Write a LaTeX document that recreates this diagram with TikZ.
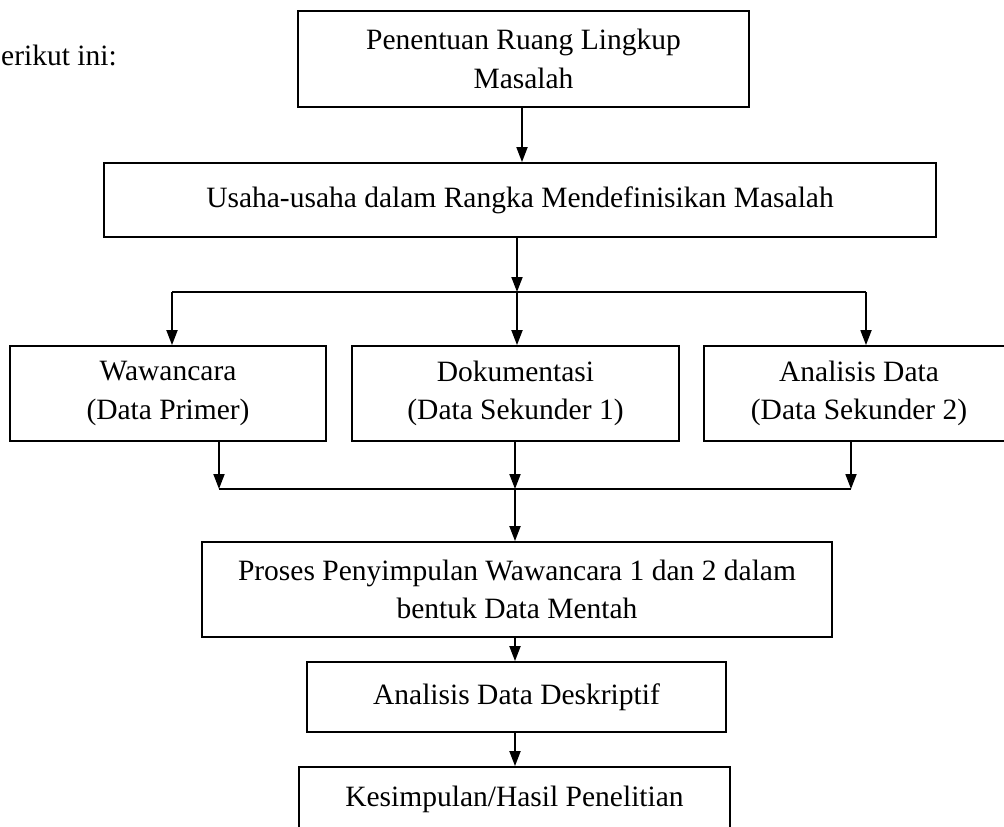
\documentclass[tikz,border=0pt]{standalone}
\usepackage{fontspec}
\setmainfont{Liberation Serif}
\usetikzlibrary{arrows.meta}
\begin{document}
\begin{tikzpicture}[x=1pt,y=-1pt,
  box/.style={draw, line width=1.8pt, inner sep=0pt, align=center,
    font=\fontsize{29.5}{38.5}\selectfont},
  lbl/.style={inner sep=0pt, font=\fontsize{29.5}{38.5}\selectfont},
  conn/.style={line width=1.8pt},
  arr/.style={line width=1.8pt, -{Triangle[length=15pt,width=11pt]}}]
\useasboundingbox (0,0) rectangle (1004,827);
\clip (0,0) rectangle (1004,827);
\fill[white] (0,0) rectangle (1004,827);

\node[lbl, anchor=west] (intro) at (1,55) {erikut ini:};

\node[box, minimum width=451pt, minimum height=96pt] (top) at (523.5,59) {Penentuan Ruang Lingkup\\Masalah};
\node[box, minimum width=832pt, minimum height=74pt] (def) at (520,200) {Usaha-usaha dalam Rangka Mendefinisikan Masalah};

\node[box, minimum width=316pt, minimum height=95pt] (waw) at (168,393.5) {Wawancara\\(Data Primer)};
\node[box, minimum width=327pt, minimum height=95pt] (dok) at (515.5,393.5) {Dokumentasi\\(Data Sekunder 1)};
\node[box, minimum width=310pt, minimum height=95pt] (ana) at (859,393.5) {Analisis Data\\(Data Sekunder 2)};

\node[box, minimum width=630pt, minimum height=95pt] (proc) at (517,589.5) {Proses Penyimpulan Wawancara 1 dan 2 dalam\\bentuk Data Mentah};
\node[box, minimum width=419pt, minimum height=70pt] (desk) at (516.5,697) {Analisis Data Deskriptif};
\node[box, minimum width=431pt, minimum height=64pt] (hasil) at (514.5,799) {Kesimpulan/Hasil Penelitian};

% top to definition
\draw[arr] (top.south -| 522,0) -- (def.north -| 522,0);

% branch
\coordinate (jb) at (517,292);
\coordinate (ja) at (172,292);
\coordinate (jc) at (866,292);
\draw[arr] (def.south -| jb) -- (jb);
\draw[conn] (ja) -- (jc);
\draw[arr] (ja) -- (ja |- waw.north);
\draw[arr] (jb) -- (jb |- dok.north);
\draw[arr] (jc) -- (jc |- ana.north);

% merge
\coordinate (ka) at (219,489);
\coordinate (kb) at (515,489);
\coordinate (kc) at (851,489);
\draw[conn] (ka) -- (kc);
\draw[arr] (waw.south -| ka) -- (ka);
\draw[arr] (dok.south -| kb) -- (kb);
\draw[arr] (ana.south -| kc) -- (kc);
\draw[arr] (kb) -- (kb |- proc.north);

\draw[arr] (proc.south -| kb) -- (kb |- desk.north);
\draw[arr] (desk.south -| kb) -- (kb |- hasil.north);
\end{tikzpicture}
\end{document}
